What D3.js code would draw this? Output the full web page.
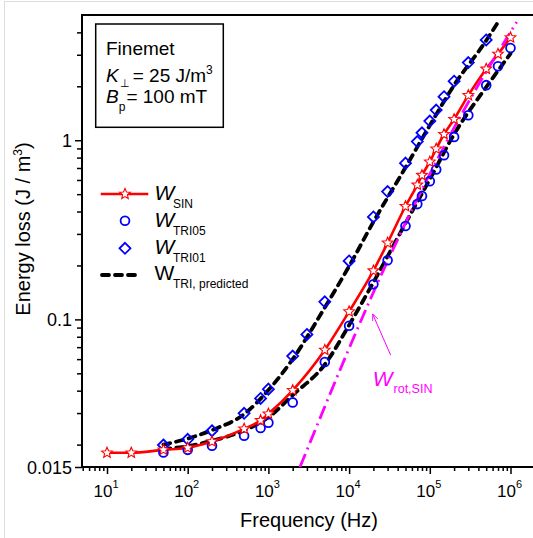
<!DOCTYPE html>
<html>
<head>
<meta charset="utf-8">
<script src="https://cdn.jsdelivr.net/npm/d3@7"></script>
<style>
  html, body { margin: 0; padding: 0; background: #fff; }
  svg { display: block; font-family: "Liberation Sans", Arial, sans-serif; }
</style>
</head>
<body>
<svg id="chart" width="533" height="538"></svg>
<script>
// ---------------- data ----------------
const sinFreq = [10, 20, 50, 100, 200, 500, 800, 1000, 2000, 5000, 1e4, 2e4, 3e4, 5e4, 7e4, 8e4, 1e5, 1.2e5, 1.5e5, 2e5, 3e5, 5e5, 7e5, 1e6];
const sinVal  = [0.0180, 0.0180, 0.0187, 0.0192, 0.0208, 0.0245, 0.0273, 0.0297, 0.0402, 0.0675, 0.1106, 0.187, 0.2675, 0.428, 0.563, 0.638, 0.757, 0.895, 1.08, 1.31, 1.78, 2.50, 3.03, 3.74];

const tri05Freq = [50, 100, 200, 500, 800, 1000, 2000, 5000, 1e4, 2e4, 3e4, 5e4, 7e4, 8e4, 1e5, 1.2e5, 1.5e5, 2e5, 3e5, 5e5, 7e5, 1e6];
const tri05Val  = [0.0181, 0.0187, 0.0197, 0.0224, 0.0248, 0.0265, 0.0344, 0.0578, 0.0921, 0.157, 0.214, 0.332, 0.440, 0.489, 0.591, 0.687, 0.825, 1.044, 1.378, 2.03, 2.59, 3.27];

const tri01Freq = [50, 100, 200, 500, 800, 1000, 2000, 3000, 5000, 1e4, 2e4, 3e4, 5e4, 7e4, 8e4, 1e5, 1.2e5, 1.5e5, 2e5, 3e5, 5e5];
const tri01Val  = [0.0199, 0.0214, 0.0239, 0.0299, 0.0362, 0.0408, 0.0624, 0.0824, 0.1254, 0.212, 0.373, 0.517, 0.745, 0.983, 1.10, 1.28, 1.474, 1.75, 2.135, 2.715, 3.63];

const pred01Freq = [50, 100, 200, 500, 1000, 2000, 5000, 1e4, 2e4, 5e4, 1e5, 2e5, 5e5, 7e5];
const pred01Val  = [0.0200, 0.0216, 0.0241, 0.0296, 0.0403, 0.0600, 0.1165, 0.198, 0.350, 0.705, 1.21, 2.03, 3.60, 4.55];

const pred05Freq = [50, 100, 200, 500, 1000, 2000, 5000, 1e4, 2e4, 5e4, 1e5, 2e5, 5e5, 1e6];
const pred05Val  = [0.0189, 0.0196, 0.0210, 0.0240, 0.0284, 0.0378, 0.0560, 0.0929, 0.161, 0.344, 0.605, 1.08, 1.98, 3.04];

const rotFreq = [2464, 37060, 215400, 1.193e6];
const rotVal  = [0.015, 0.260, 1.247, 4.567];

const xMajor = [10, 100, 1000, 1e4, 1e5, 1e6];
const xMajorExp = ["1", "2", "3", "4", "5", "6"];
const yMajor = [0.015, 0.1, 1];
const yMajorLabels = ["0.015", "0.1", "1"];

// ---------------- scales ----------------
const svg = d3.select("#chart");
const L = 82, R = 533, T = 15, B = 467;
const x = d3.scaleLog().domain([4.9, 1.9e6]).range([L, R]);
const y = d3.scaleLog().domain([0.015, 5]).range([B, T]);

const RED = "#ff0000", BLUE = "#0000ff", MAG = "#ff00ff";
const zip = (fs, vs) => fs.map((f, i) => [f, vs[i]]);

// outer faint frame
svg.append("rect").attr("x", 4.5).attr("y", 1.5).attr("width", 540).attr("height", 540)
  .attr("fill", "none").attr("stroke", "#dddddd").attr("stroke-width", 1);

// ---------------- axes ----------------
const xMinor = [];
for (let d = 0; d <= 6; d++) for (let k = 2; k <= 9; k++) {
  const v = k * Math.pow(10, d);
  if (v > 4.9 && v < 1.9e6) xMinor.push(v);
}
const yMinor = [];
[0.01, 0.1, 1].forEach(d => { for (let k = 2; k <= 9; k++) { const v = k * d; if (v > 0.015 && v < 4.99) yMinor.push(v); } });

const gx = svg.append("g").attr("transform", `translate(0,${B})`);
gx.call(d3.axisBottom(x).tickValues(xMinor).tickSize(4).tickFormat(""));
gx.call(g => g.select(".domain").remove());
const gx2 = svg.append("g").attr("transform", `translate(0,${B})`);
gx2.call(d3.axisBottom(x).tickValues(xMajor).tickSize(7).tickFormat(""));
gx2.call(g => g.select(".domain").remove());

const gy = svg.append("g").attr("transform", `translate(${L},0)`);
gy.call(d3.axisLeft(y).tickValues(yMinor).tickSize(5).tickFormat(""));
gy.call(g => g.select(".domain").remove());
const gy2 = svg.append("g").attr("transform", `translate(${L},0)`);
gy2.call(d3.axisLeft(y).tickValues(yMajor).tickSize(7).tickFormat(""));
gy2.call(g => g.select(".domain").remove());
svg.selectAll(".tick line").attr("stroke", "#000").attr("stroke-width", 1.5);

// frame lines
svg.append("line").attr("x1", L).attr("x2", R).attr("y1", B).attr("y2", B).attr("stroke", "#000").attr("stroke-width", 2);
svg.append("line").attr("x1", L).attr("x2", R).attr("y1", T).attr("y2", T).attr("stroke", "#000").attr("stroke-width", 2);
svg.append("line").attr("x1", L).attr("x2", L).attr("y1", T - 1).attr("y2", B + 1).attr("stroke", "#000").attr("stroke-width", 2);

// x tick labels
xMajor.forEach((v, i) => {
  const t = svg.append("text").attr("x", x(v) - 1).attr("y", 497).attr("text-anchor", "middle")
    .attr("font-size", 17).attr("fill", "#000");
  t.append("tspan").text("10");
  t.append("tspan").attr("dy", -9).attr("font-size", 11).text(xMajorExp[i]);
});
// y tick labels
yMajor.forEach((v, i) => {
  svg.append("text").attr("x", 72).attr("y", y(v) + 6.5).attr("text-anchor", "end")
    .attr("font-size", 18).attr("fill", "#000").text(yMajorLabels[i]);
});

// axis titles
svg.append("text").attr("x", 309).attr("y", 527).attr("text-anchor", "middle")
  .attr("font-size", 20).text("Frequency (Hz)");
const yl = svg.append("text").attr("transform", "translate(30,229) rotate(-90)")
  .attr("text-anchor", "middle").attr("font-size", 20);
yl.append("tspan").text("Energy loss (J / m");
yl.append("tspan").attr("dy", -8).attr("font-size", 12).text("3");
yl.append("tspan").attr("dy", 8).text(")");

// ---------------- clip ----------------
svg.append("clipPath").attr("id", "clip").append("rect")
  .attr("x", L).attr("y", T).attr("width", R - L).attr("height", B - T);
const plot = svg.append("g").attr("clip-path", "url(#clip)");

const line = d3.line().x(d => x(d[0])).y(d => y(d[1])).curve(d3.curveMonotoneX);

// predicted dashed
[zip(pred01Freq, pred01Val), zip(pred05Freq, pred05Val)].forEach(dat => {
  plot.append("path").attr("d", line(dat)).attr("fill", "none").attr("stroke", "#000")
    .attr("stroke-width", 3.8).attr("stroke-dasharray", "7,6").attr("stroke-linecap", "round");
});

// sin line
plot.append("path").attr("d", line(zip(sinFreq, sinVal))).attr("fill", "none").attr("stroke", RED)
  .attr("stroke-width", 2.6);

// rotational line
plot.append("path").attr("d", line(zip(rotFreq, rotVal))).attr("fill", "none").attr("stroke", MAG)
  .attr("stroke-width", 2.8).attr("stroke-dasharray", "14,5,2,5");

// markers
function starPath(R0) {
  const r0 = R0 * 0.45; let p = "";
  for (let i = 0; i < 10; i++) {
    const a = -Math.PI / 2 + i * Math.PI / 5;
    const rr = i % 2 === 0 ? R0 : r0;
    p += (i === 0 ? "M" : "L") + (rr * Math.cos(a)).toFixed(2) + "," + (rr * Math.sin(a)).toFixed(2);
  }
  return p + "Z";
}
const STAR = starPath(5.6);
const DIAM = "M0,-5.5L5.5,0L0,5.5L-5.5,0Z";

plot.selectAll(".c05").data(zip(tri05Freq, tri05Val)).join("circle")
  .attr("cx", d => x(d[0])).attr("cy", d => y(d[1])).attr("r", 4.4)
  .attr("fill", "none").attr("stroke", BLUE).attr("stroke-width", 1.8);
plot.selectAll(".d01").data(zip(tri01Freq, tri01Val)).join("path")
  .attr("transform", d => `translate(${x(d[0])},${y(d[1])})`).attr("d", DIAM)
  .attr("fill", "none").attr("stroke", BLUE).attr("stroke-width", 1.8);
plot.selectAll(".s").data(zip(sinFreq, sinVal)).join("path")
  .attr("transform", d => `translate(${x(d[0])},${y(d[1])})`).attr("d", STAR)
  .attr("fill", "#fff").attr("stroke", RED).attr("stroke-width", 1.1);

// ---------------- annotation ----------------
svg.append("defs").append("marker").attr("id", "arr").attr("viewBox", "0 0 10 10")
  .attr("refX", 9).attr("refY", 5).attr("markerWidth", 7).attr("markerHeight", 7).attr("orient", "auto")
  .append("path").attr("d", "M0,1L9,5L0,9").attr("fill", "none").attr("stroke", MAG).attr("stroke-width", 1.2);
svg.append("line").attr("x1", x(3.27e4)).attr("y1", y(0.0632)).attr("x2", x(1.96e4)).attr("y2", y(0.107))
  .attr("stroke", MAG).attr("stroke-width", 1).attr("marker-end", "url(#arr)");
const an = svg.append("text").attr("x", x(1.96e4)).attr("y", y(0.0425)).attr("fill", MAG).attr("font-size", 21);
an.append("tspan").attr("font-style", "italic").text("W");
an.append("tspan").attr("font-size", 12.5).attr("dy", 7).attr("dx", 1).text("rot,SIN");

// ---------------- info box ----------------
svg.append("rect").attr("x", 95.7).attr("y", 24).attr("width", 127.6).attr("height", 103.3)
  .attr("fill", "#fff").attr("stroke", "#000").attr("stroke-width", 1.5);
svg.append("text").attr("x", 106).attr("y", 55).attr("font-size", 19).text("Finemet");
const k = svg.append("text").attr("x", 106).attr("y", 81.7).attr("font-size", 19);
k.append("tspan").attr("font-style", "italic").text("K");
k.append("tspan").attr("font-size", 11).attr("dy", 5).attr("dx", 1).text("⊥");
k.append("tspan").attr("dy", -5).attr("dx", 3).text("= 25 J/m");
k.append("tspan").attr("font-size", 12).attr("dy", -8).text("3");
const b = svg.append("text").attr("x", 106).attr("y", 103.3).attr("font-size", 19);
b.append("tspan").attr("font-style", "italic").text("B");
b.append("tspan").attr("font-size", 12).attr("dy", 8).text("p");
b.append("tspan").attr("dy", -8).attr("dx", 1).text("= 100 mT");

// ---------------- legend ----------------
const lg = svg.append("g");
lg.append("line").attr("x1", 100.7).attr("x2", 148.3).attr("y1", 194).attr("y2", 194)
  .attr("stroke", RED).attr("stroke-width", 2.6);
lg.append("path").attr("transform", "translate(125,194)").attr("d", STAR)
  .attr("fill", "#fff").attr("stroke", RED).attr("stroke-width", 1.1);
lg.append("circle").attr("cx", 125).attr("cy", 220.7).attr("r", 4.4)
  .attr("fill", "none").attr("stroke", BLUE).attr("stroke-width", 1.8);
lg.append("path").attr("transform", "translate(125,248.3)").attr("d", DIAM)
  .attr("fill", "none").attr("stroke", BLUE).attr("stroke-width", 1.8);
lg.append("line").attr("x1", 102).attr("x2", 140).attr("y1", 275).attr("y2", 275)
  .attr("stroke", "#000").attr("stroke-width", 3.8).attr("stroke-dasharray", "7,6").attr("stroke-linecap", "round");

const legendItems = [
  { base: 200, sub: "SIN", subBase: 207.5, italic: true },
  { base: 226.7, sub: "TRI05", subBase: 235, italic: true },
  { base: 254, sub: "TRI01", subBase: 261.7, italic: true },
  { base: 280, sub: "TRI, predicted", subBase: 287.5, italic: false }
];
legendItems.forEach(it => {
  lg.append("text").attr("x", 154.5).attr("y", it.base).attr("font-size", 21)
    .attr("font-style", it.italic ? "italic" : "normal").text("W");
  lg.append("text").attr("x", 173).attr("y", it.subBase).attr("font-size", 12).text(it.sub);
});
</script>
</body>
</html>
